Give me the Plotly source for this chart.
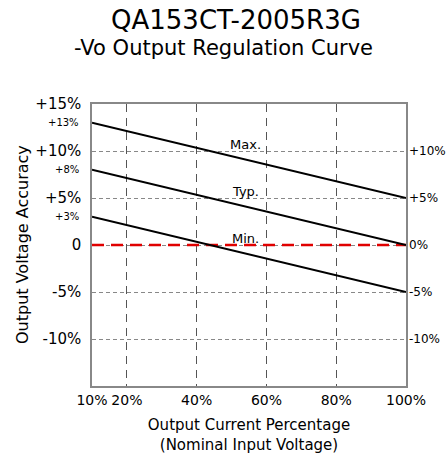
import plotly.graph_objects as go

load_pct = [10, 100]
max_acc = [13, 5]
typ_acc = [8, 0]
min_acc = [3, -5]
ref_acc = [0, 0]

x_ticks = [10, 20, 40, 60, 80, 100]
x_ticktext = ["10%", "20%", "40%", "60%", "80%", "100%"]
y_ticks = [-10, -5, 0, 5, 10, 15]
y_ticktext = ["-10%", "-5%", "0", "+5%", "+10%", "+15%"]
y2_ticks = [-10, -5, 0, 5, 10]
y2_ticktext = ["-10%", "-5%", "0%", "+5%", "+10%"]
start_labels = ["+13%", "+8%", "+3%"]
curve_names = ["Max.", "Typ.", "Min."]

FONT = "DejaVu Sans"
fig = go.Figure()

fig.add_trace(go.Scatter(x=load_pct, y=ref_acc, mode="lines",
                         line=dict(color="#e00000", width=2.5, dash="12px,7px"),
                         showlegend=False, hoverinfo="skip"))
for ys in (max_acc, typ_acc, min_acc):
    fig.add_trace(go.Scatter(x=load_pct, y=ys, mode="lines",
                             line=dict(color="black", width=2),
                             showlegend=False, hoverinfo="skip"))
# invisible trace for right axis
fig.add_trace(go.Scatter(x=load_pct, y=ref_acc, yaxis="y2", mode="lines",
                         line=dict(width=0), opacity=0, showlegend=False,
                         hoverinfo="skip"))

# start value labels
for lab, ys in zip(start_labels, (max_acc, typ_acc, min_acc)):
    fig.add_annotation(x=0, xref="paper", y=ys[0], yref="y", text=lab,
                       showarrow=False, xanchor="right", xshift=-11,
                       font=dict(family=FONT, size=10, color="black"))

# curve names
mid_x = 54
for name, ys in zip(curve_names, (max_acc, typ_acc, min_acc)):
    yv = ys[0] + (ys[1] - ys[0]) * (mid_x - load_pct[0]) / (load_pct[1] - load_pct[0])
    fig.add_annotation(x=mid_x, y=yv, text=name, showarrow=False,
                       yanchor="middle", yshift=15,
                       font=dict(family=FONT, size=13, color="black"))

fig.add_annotation(x=0.46, xref="paper", y=1, yref="paper", yanchor="middle",
                   yshift=104 - 20, text="QA153CT-2005R3G", showarrow=False,
                   font=dict(family=FONT, size=26, color="black"))
fig.add_annotation(x=0.42, xref="paper", y=1, yref="paper", yanchor="middle",
                   yshift=104 - 48, text="-Vo Output Regulation Curve", showarrow=False,
                   font=dict(family=FONT, size=21, color="black"))
# y-axis title
fig.add_annotation(x=0, xref="paper", xshift=-(92 - 22), xanchor="center",
                   y=0.5, yref="paper", yanchor="middle", textangle=-90,
                   text="Output Voltage Accuracy", showarrow=False,
                   font=dict(family=FONT, size=16, color="black"))

fig.update_layout(
    width=446, height=457,
    margin=dict(l=92, r=40, t=104, b=71),
    paper_bgcolor="white", plot_bgcolor="white",
    font=dict(family=FONT, color="black"),
    xaxis=dict(range=[10, 100], tickvals=x_ticks, ticktext=x_ticktext,
               tickangle=0, automargin=False,
               showgrid=True, gridcolor="#555555", griddash="8px,6px", gridwidth=1,
               showline=True, linecolor="#888888", linewidth=1.5, mirror=True,
               ticks="", zeroline=False, tickfont=dict(size=14),
               title=dict(text="Output Current Percentage<br>(Nominal Input Voltage)",
                          font=dict(size=15), standoff=13)),
    yaxis=dict(range=[-15, 15], tickvals=y_ticks, ticktext=y_ticktext,
               automargin=False,
               showgrid=True, gridcolor="#888888", griddash="4px,3px", gridwidth=1,
               showline=True, linecolor="#888888", linewidth=1.5, mirror=True,
               ticks="", zeroline=False, tickfont=dict(size=15), ticklabelstandoff=6),
    yaxis2=dict(range=[-15, 15], overlaying="y", side="right", automargin=False,
                tickvals=y2_ticks, ticktext=y2_ticktext, showgrid=False,
                zeroline=False, showline=False, ticks="",
                tickfont=dict(size=12), ticklabelstandoff=2),
)

fig.write_html("out.html", config={"displayModeBar": False},
               post_script="document.body.style.margin='0';")
